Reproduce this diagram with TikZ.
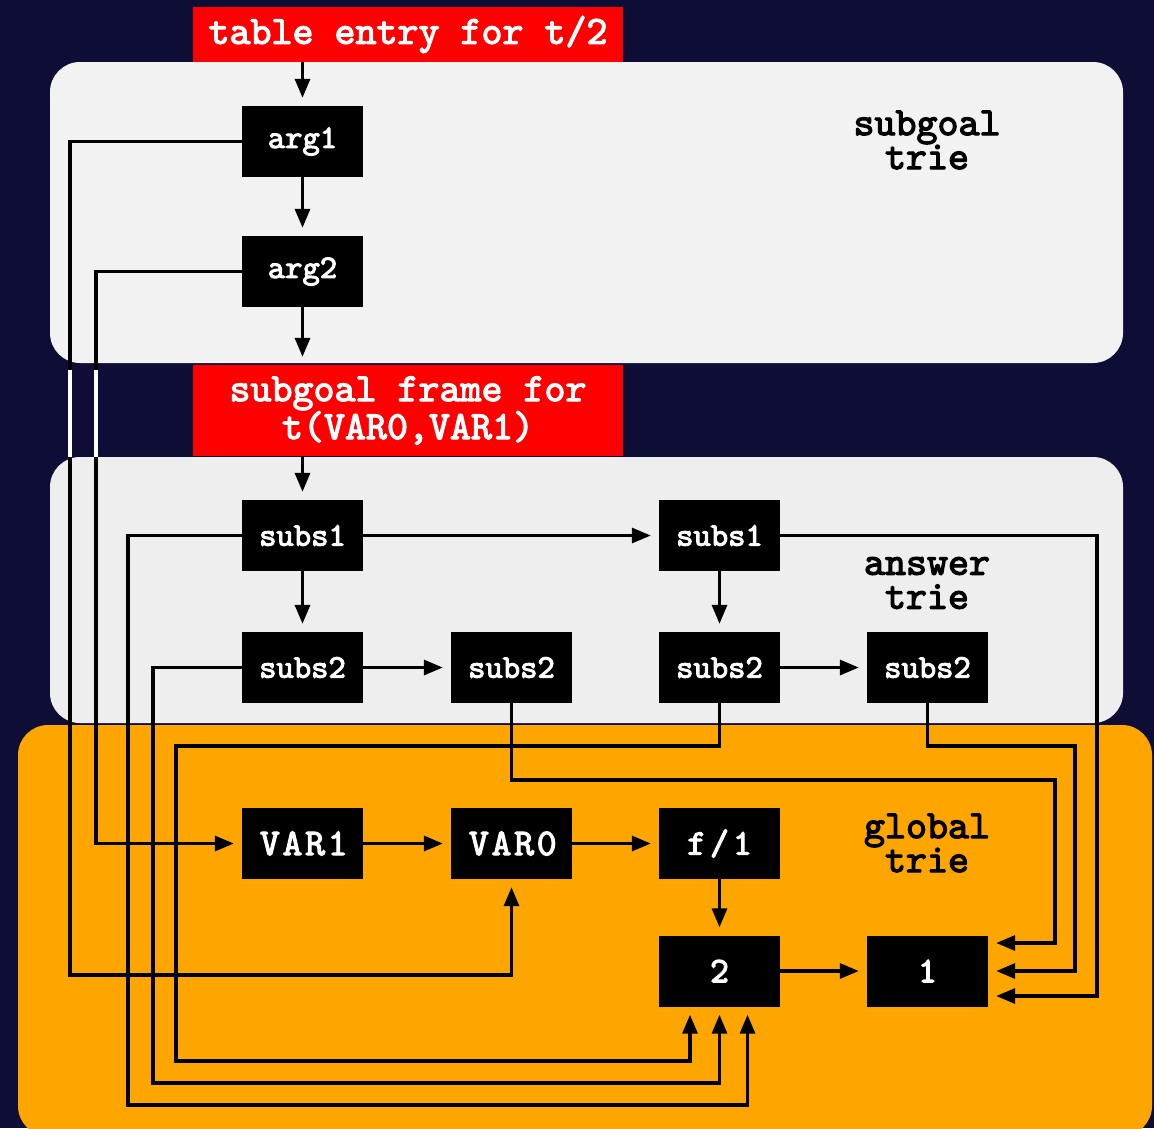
\documentclass[tikz,border=0pt]{standalone}
\usepackage{fontspec}
\usetikzlibrary{arrows.meta,calc}
\newfontfamily\cmono{lmmono10-regular.otf}[FakeBold=3]
\newfontfamily\cmonowide{lmmono10-regular.otf}[FakeBold=3,LetterSpace=7]
\definecolor{navy}{RGB}{13,13,54}
\definecolor{sgray}{RGB}{242,242,242}
\definecolor{agray}{RGB}{238,238,238}
\definecolor{orng}{RGB}{255,165,0}
\definecolor{redb}{RGB}{255,0,0}
\newcommand{\mytt}{\cmono\bfseries}
\newcommand{\widett}[1]{{\cmonowide\fontsize{38}{38}\selectfont\kern2.6pt#1}}
\begin{document}
\begin{tikzpicture}[x=1pt,y=-1pt,
  box/.style={fill=black,text=white,minimum width=121pt,minimum height=71pt,inner sep=0pt,font=\mytt\fontsize{33}{33}\selectfont},
  bigbox/.style={box,font=\mytt\fontsize{36}{36}\selectfont},
  redbox/.style={fill=redb,text=white,minimum width=430pt,inner sep=0pt,align=center,font=\mytt\fontsize{40}{35}\selectfont},
  conn/.style={draw=black,line width=3.2pt,-{Triangle[length=19pt,width=15pt]},shorten >=8pt},
  lbl/.style={font=\mytt\fontsize{40}{34}\selectfont,align=center,text=black},
  region/.style={rounded corners=30pt}
]
\useasboundingbox (0,0) rectangle (1154,1128);
\fill[navy] (0,0) rectangle (1154,1128);
% regions
\fill[sgray,region] (50,62) rectangle (1123,363);
\fill[agray,region] (50,457) rectangle (1123,723);
\fill[orng,region] (18,725) rectangle (1152,1136);
% red labels
\node[redbox,minimum height=55pt] (tab) at (408,34.5) {table entry for t/2};
\node[redbox,minimum height=91pt] (frame) at (408,410.5) {subgoal frame for\\t(VAR0,VAR1)};
% region labels
\node[lbl] (lsub) at (927,140) {subgoal\\trie};
\node[lbl] (lans) at (927,583) {answer\\trie};
\node[lbl] (lglo) at (927,843) {global\\trie};
% nodes
\node[box] (arg1) at (302.5,141.5) {arg1};
\node[box] (arg2) at (302.5,271.5) {arg2};
\node[box] (s1a) at (302.5,535.5) {subs1};
\node[box] (s1b) at (719.5,535.5) {subs1};
\node[box] (s2a) at (302.5,667.5) {subs2};
\node[box] (s2b) at (511.5,667.5) {subs2};
\node[box] (s2c) at (719.5,667.5) {subs2};
\node[box] (s2d) at (927.5,667.5) {subs2};
\node[bigbox] (v1) at (302.5,843.5) {\widett{VAR1}};
\node[bigbox] (v0) at (511.5,843.5) {\widett{VAR0}};
\node[bigbox] (f1) at (719.5,843.5) {f\kern4pt/\kern4pt1};
\node[bigbox] (n2) at (719.5,971) {2};
\node[bigbox] (n1) at (927.5,971) {1};
% straight connectors
\draw[conn] (arg1.north |- tab.south) -- (arg1.north);
\draw[conn] (arg1) -- (arg2);
\draw[conn] (arg2.south) -- (arg2.south |- frame.north);
\draw[conn] (s1a.north |- frame.south) -- (s1a.north);
\draw[conn] (s1a) -- (s2a);
\draw[conn] (s1a) -- (s1b);
\draw[conn] (s2a) -- (s2b);
\draw[conn] (s1b) -- (s2c);
\draw[conn] (s2c) -- (s2d);
\draw[conn] (v1) -- (v0);
\draw[conn] (v0) -- (f1);
\draw[conn] (f1) -- (n2);
\draw[conn] (n2) -- (n1);
% routed connectors
\draw[conn] (arg1.west) -| (70,975) -| (v0.south);
\draw[conn] (arg2.west) -| (96,843.5) -- (v1.west);
\draw[conn] (s1a.west) -| (128,1105) -| ([xshift=28pt]n2.south);
\draw[conn] (s2a.west) -| (153,1083) -| (n2.south);
\draw[conn] (s2c.south) |- (176,746) |- (690,1061) -- ([xshift=-29.5pt]n2.south);
\draw[conn] (s2b.south) |- (1055,780) |- ([yshift=28pt]n1.east);
\draw[conn] (s2d.south) |- (1075,746) |- (n1.east);
\draw[conn] (s1b.east) -| (1097,996) -- ([yshift=-25pt]n1.east);
% white segments across the navy gap
\draw[white,line width=3.2pt] (70,370) -- (70,457);
\draw[white,line width=3.2pt] (96,370) -- (96,457);
\end{tikzpicture}
\end{document}
